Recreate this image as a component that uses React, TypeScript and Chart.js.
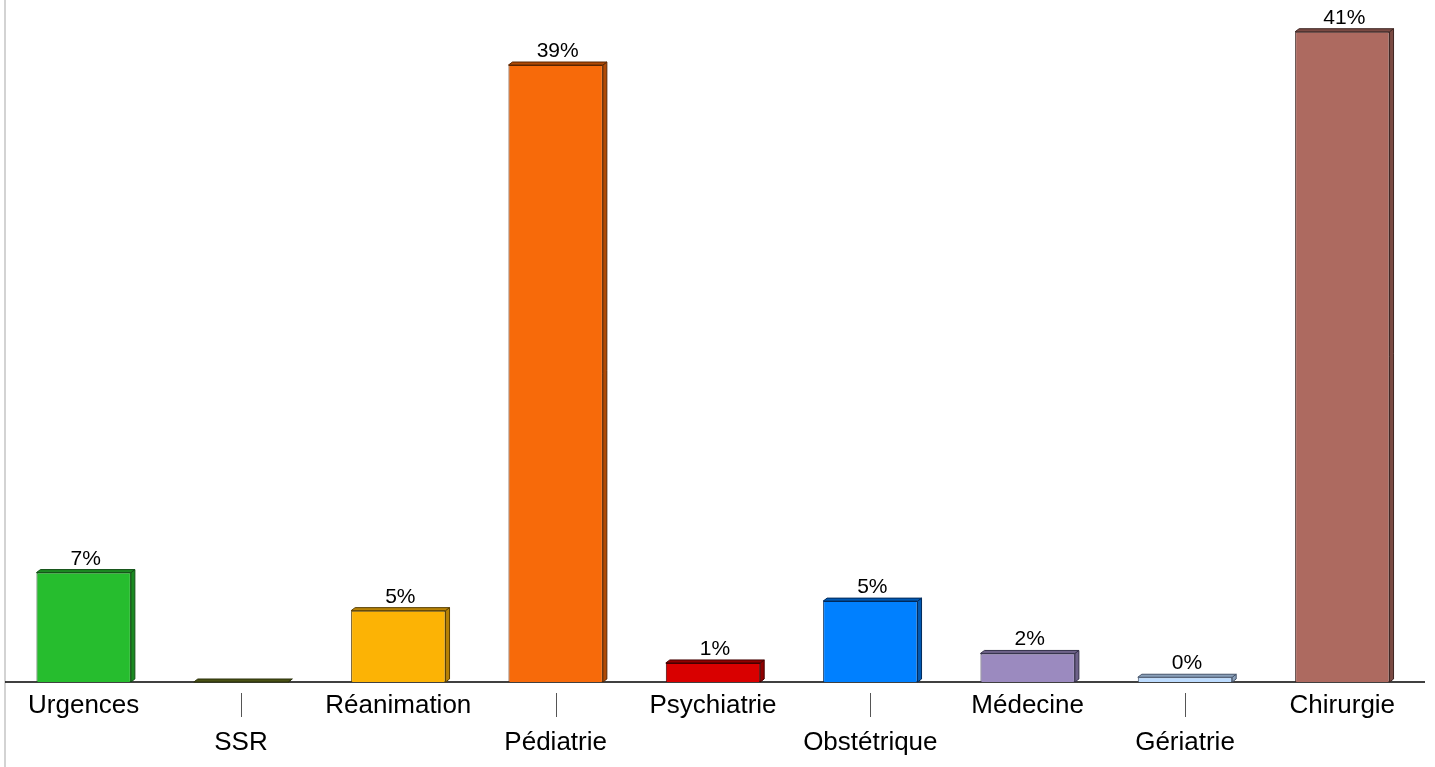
import React, { useEffect, useRef } from "react";
import { Chart, registerables } from "chart.js";

Chart.register(...registerables);

const categories = ["Urgences", "SSR", "Réanimation", "Pédiatrie", "Psychiatrie", "Obstétrique", "Médecine", "Gériatrie", "Chirurgie"];
const values = [6.9, 0, 4.5, 38.9, 1.2, 5.1, 1.8, 0.3, 41.0];
const valueLabels = ["7%", "", "5%", "39%", "1%", "5%", "2%", "0%", "41%"];
const frontColors = ["#26BD2E", "#6B7520", "#FCB305", "#F76A0A", "#D90000", "#0080FF", "#9B8ABF", "#BDDCFF", "#AD6A60"];
const sideColors = ["#1B8A22", "#4A5215", "#B88205", "#B04A05", "#900000", "#0059B3", "#6E6289", "#8AA0BA", "#7A4A43"];
const edgeColors = ["#124F15", "#2A300B", "#5A3F02", "#5A2602", "#450000", "#002A5A", "#34304A", "#45536A", "#3E2522"];

const DX = 4;
const DY = 3;

const decorPlugin = {
  id: "decor",
  beforeDatasetsDraw(chart: any) {
    const ctx = chart.ctx;
    const area = chart.chartArea;
    ctx.save();
    ctx.strokeStyle = "#c4c4c4";
    ctx.lineWidth = 1.5;
    ctx.beginPath();
    ctx.moveTo(area.left, 0);
    ctx.lineTo(area.left, chart.height);
    ctx.stroke();
    ctx.strokeStyle = "#000";
    ctx.lineWidth = 1.5;
    ctx.beginPath();
    ctx.moveTo(area.left, area.bottom);
    ctx.lineTo(area.right + 4, area.bottom);
    ctx.stroke();
    const xs = chart.scales.x;
    ctx.strokeStyle = "#555";
    ctx.lineWidth = 1;
    categories.forEach((_, i) => {
      if (i % 2 === 1) {
        const px = Math.round(xs.getPixelForValue(i)) + 0.5;
        ctx.beginPath();
        ctx.moveTo(px, area.bottom + 11);
        ctx.lineTo(px, area.bottom + 35);
        ctx.stroke();
      }
    });
    ctx.restore();
  },
  afterDatasetsDraw(chart: any) {
    const ctx = chart.ctx;
    const meta = chart.getDatasetMeta(0);
    ctx.save();
    meta.data.forEach((bar: any, i: number) => {
      const p = bar.getProps(["x", "y", "base", "width"], true);
      const left = p.x - p.width / 2;
      const right = p.x + p.width / 2;
      const top = p.y;
      const base = p.base;
      ctx.lineWidth = 1;
      ctx.strokeStyle = edgeColors[i];
      ctx.fillStyle = sideColors[i];
      ctx.beginPath();
      ctx.moveTo(right, top);
      ctx.lineTo(right + DX, top - DY);
      ctx.lineTo(right + DX, base - DY);
      ctx.lineTo(right, base);
      ctx.closePath();
      ctx.fill();
      ctx.stroke();
      ctx.fillStyle = sideColors[i];
      ctx.beginPath();
      ctx.moveTo(left, top);
      ctx.lineTo(left + DX, top - DY);
      ctx.lineTo(right + DX, top - DY);
      ctx.lineTo(right, top);
      ctx.closePath();
      ctx.fill();
      ctx.stroke();
      if (valueLabels[i]) {
        ctx.fillStyle = "#000";
        ctx.font = "21px 'Liberation Sans', Arial, sans-serif";
        ctx.textAlign = "center";
        ctx.textBaseline = "alphabetic";
        ctx.fillText(valueLabels[i], p.x + 2, top - DY - 5);
      }
    });
    ctx.restore();
  },
};

export default function App() {
  const ref = useRef<HTMLCanvasElement | null>(null);
  useEffect(() => {
    if (!ref.current) return;
    const labels = categories.map((c, i) => (i % 2 === 0 ? [c, ""] : ["", c]));
    const chart = new Chart(ref.current, {
      type: "bar",
      data: {
        labels,
        datasets: [
          {
            data: values,
            backgroundColor: frontColors,
            borderColor: edgeColors,
            borderWidth: 1,
            barPercentage: 0.6,
            categoryPercentage: 1,
          },
        ],
      },
      options: {
        animation: false,
        responsive: true,
        maintainAspectRatio: false,
        layout: { padding: { left: 5, right: 14, top: 0, bottom: 0 } },
        plugins: { legend: { display: false }, tooltip: { enabled: false } },
        scales: {
          x: {
            grid: { display: false },
            border: { display: false },
            ticks: {
              color: "#000",
              font: { family: "'Liberation Sans', Arial, sans-serif", size: 26, lineHeight: 1.42 },
              padding: -3,
              maxRotation: 0,
              autoSkip: false,
            },
            afterFit(scale: any) {
              scale.height = 85;
            },
          },
          y: {
            display: false,
            min: 0,
            max: 43,
          },
        },
      },
      plugins: [decorPlugin],
    });
    return () => chart.destroy();
  }, []);
  return (
    <div style={{ position: "absolute", left: 0, top: 0, width: 1435, height: 767, background: "#fff" }}>
      <canvas ref={ref} />
    </div>
  );
}
